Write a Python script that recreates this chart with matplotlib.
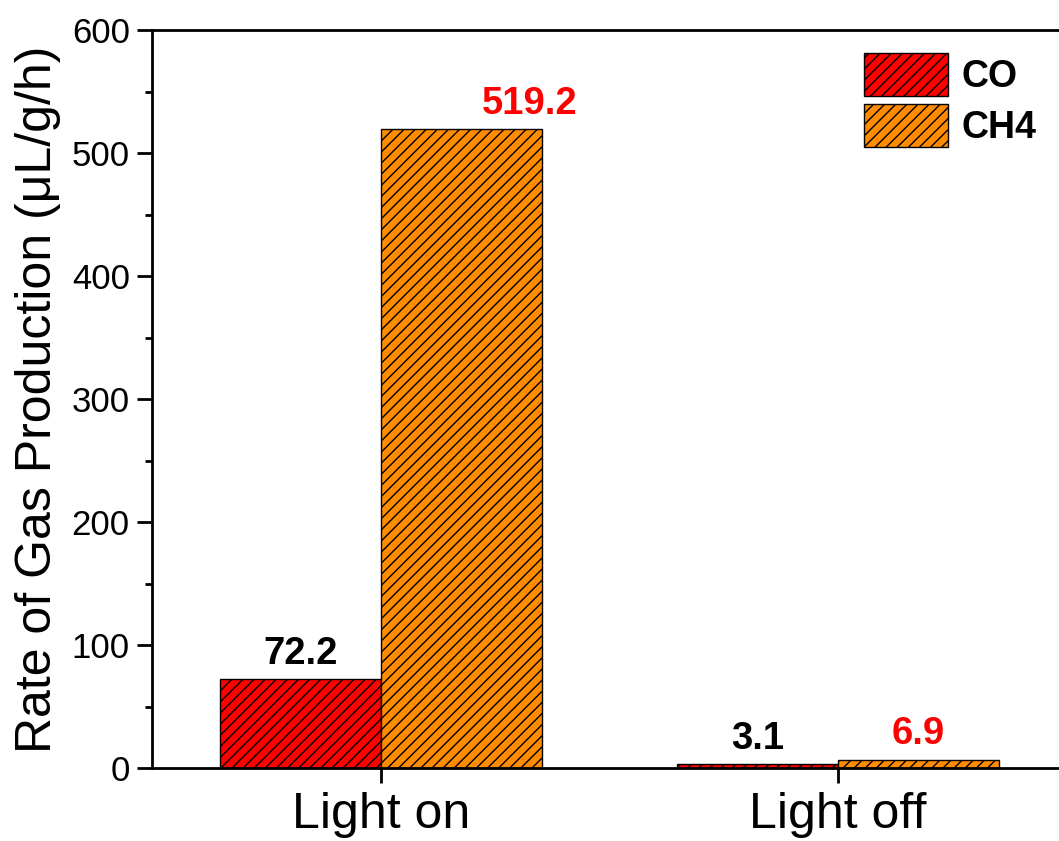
import matplotlib
matplotlib.use("Agg")
import matplotlib.pyplot as plt
import numpy as np

plt.rcParams['font.family'] = ['Liberation Sans', 'DejaVu Sans']
plt.rcParams['hatch.linewidth'] = 1.0
plt.rcParams['hatch.color'] = 'black'

conditions = ['Light on', 'Light off']
co_rate = [72.2, 3.1]
ch4_rate = [519.2, 6.9]
co_label_color = ['black', 'black']
ch4_label_color = ['red', 'red']
# horizontal nudge of each CH4 value label, in bar-group units
ch4_label_shift = [0.15, 0.0]

fig = plt.figure(figsize=(10.59, 8.41), dpi=100)
ax = fig.add_axes([152 / 1059, 1 - 768 / 841, 940 / 1059, 738 / 841])

x = np.arange(len(conditions))
w = 0.352

bars_co = ax.bar(x - w / 2, co_rate, w, color='#FF0000', edgecolor='black',
                 linewidth=1.0, hatch='///', label='CO')
bars_ch4 = ax.bar(x + w / 2, ch4_rate, w, color='#FF8C00', edgecolor='black',
                  linewidth=1.0, hatch='///', label='CH4')

for bar, val, c in zip(bars_co, co_rate, co_label_color):
    ax.text(bar.get_x() + bar.get_width() / 2, val + 6, f'{val:.1f}',
            ha='center', va='bottom', fontsize=27.5, fontweight='bold', color=c)
for bar, val, c, dx in zip(bars_ch4, ch4_rate, ch4_label_color, ch4_label_shift):
    ax.text(bar.get_x() + bar.get_width() / 2 + dx, val + 6, f'{val:.1f}',
            ha='center', va='bottom', fontsize=27.5, fontweight='bold', color=c)

ax.set_xlim(-0.501, -0.501 + 940 / 457)
ax.set_ylim(0, 600)
ax.set_yticks(np.arange(0, 601, 100))
ax.set_yticks(np.arange(50, 600, 100), minor=True)
ax.set_xticks(x)
ax.set_xticklabels(conditions)

ax.spines['right'].set_visible(False)
for side in ['left', 'bottom', 'top']:
    ax.spines[side].set_linewidth(2.0)

ax.tick_params(axis='y', which='major', direction='out', length=11, width=2.0,
               labelsize=25, pad=5)
ax.tick_params(axis='y', which='minor', direction='out', length=5, width=2.0)
ax.tick_params(axis='x', which='major', direction='out', length=11, width=2.0,
               labelsize=36, pad=6)

ax.set_ylabel('Rate of Gas Production (μL/g/h)', fontsize=36, labelpad=8)

ax.legend(loc='upper left', bbox_to_anchor=(864 / 1059, 1 - 53 / 841),
          bbox_transform=fig.transFigure, frameon=False,
          prop={'size': 27, 'weight': 'bold'}, handlelength=2.24,
          handleheight=1.4, labelspacing=0.2, handletextpad=0.37,
          borderpad=0, borderaxespad=0)

fig.savefig('out.png', dpi=100)
